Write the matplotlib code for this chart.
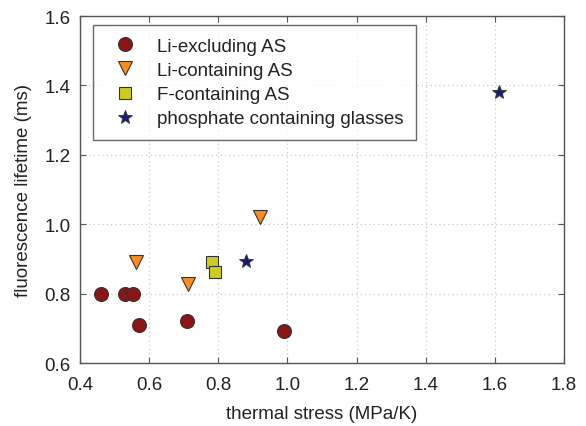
import matplotlib
matplotlib.use("Agg")
import matplotlib.pyplot as plt

plt.rcParams["font.family"] = ["Liberation Sans", "DejaVu Sans"]

# thermal stress (MPa/K) vs fluorescence lifetime (ms)
li_excl_x = [0.46, 0.53, 0.552, 0.571, 0.709, 0.991]
li_excl_y = [0.80, 0.80, 0.80, 0.711, 0.721, 0.691]

li_cont_x = [0.561, 0.711, 0.922]
li_cont_y = [0.89, 0.829, 1.02]

f_cont_x = [0.782, 0.791]
f_cont_y = [0.892, 0.862]

phosphate_x = [0.880, 1.611]
phosphate_y = [0.894, 1.382]

xticks = [0.4, 0.6, 0.8, 1.0, 1.2, 1.4, 1.6, 1.8]
yticks = [0.6, 0.8, 1.0, 1.2, 1.4, 1.6]

FS = 13.5

fig = plt.figure(figsize=(5.86, 4.27), dpi=100)
ax = fig.add_axes([0.1365, 0.1475, 0.826, 0.8125])

edge = "#333333"
ax.plot(li_excl_x, li_excl_y, "o", ms=10, mfc="#8b1414", mec=edge, mew=0.8,
        ls="none", label="Li-excluding AS", zorder=3)
ax.plot(li_cont_x, li_cont_y, "v", ms=10, mfc="#ff8c1e", mec=edge, mew=0.8,
        ls="none", label="Li-containing AS", zorder=3)
ax.plot(f_cont_x, f_cont_y, "s", ms=9, mfc="#cccc22", mec=edge, mew=0.8,
        ls="none", label="F-containing AS", zorder=3)
ax.plot(phosphate_x, phosphate_y, "*", ms=10, mfc="#1c1c6e", mec=edge, mew=0.6,
        ls="none", label="phosphate containing glasses", zorder=3)

ax.set_xlim(0.4, 1.8)
ax.set_ylim(0.6, 1.6)
ax.set_xticks(xticks)
ax.set_yticks(yticks)
ax.set_xticklabels([f"{t:.1f}" for t in xticks])
ax.set_yticklabels([f"{t:.1f}" for t in yticks])

ax.grid(True, color="#c8c8c8", linestyle=(0, (1, 2.5)), linewidth=0.9)
ax.tick_params(direction="in", top=True, right=True, length=4, width=0.8,
               color="#555555", labelsize=FS, labelcolor="#222222")
ax.tick_params(axis="x", pad=9)
ax.tick_params(axis="y", pad=6.5)
for s in ax.spines.values():
    s.set_edgecolor("#555555")
    s.set_linewidth(1.0)

ax.set_xlabel("thermal stress (MPa/K)", fontsize=FS, color="#222222", labelpad=9)
ax.set_ylabel("fluorescence lifetime (ms)", fontsize=FS, color="#222222", labelpad=9)

leg = ax.legend(loc="upper left", bbox_to_anchor=(0.026, 0.975), fontsize=FS,
                frameon=True, fancybox=False, borderpad=0.68, labelspacing=0.38,
                handletextpad=0.67, handlelength=2.06, borderaxespad=0)
leg.get_frame().set_edgecolor("#444444")
leg.get_frame().set_linewidth(1.0)
for t in leg.get_texts():
    t.set_color("#222222")

fig.savefig("out.png", dpi=100)
